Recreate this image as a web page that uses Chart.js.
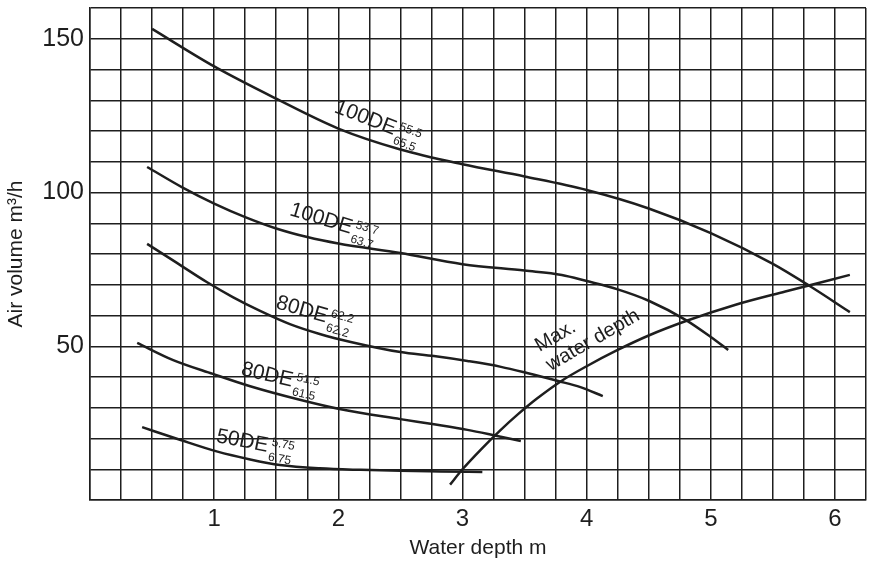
<!DOCTYPE html>
<html>
<head>
<meta charset="utf-8">
<script src="https://cdn.jsdelivr.net/npm/chart.js"></script>
<style>
  body { margin: 0; background: #fff; }
  #wrap { width: 873px; height: 561px; }
</style>
</head>
<body>
<div id="wrap"><canvas id="chart" width="873" height="561"></canvas></div>
<script>
// Courbes (profondeur d'eau m / débit d'air m3/h)
const depth100a = [0.50, 1.00, 1.50, 2.00, 2.50, 3.00, 3.50, 4.00, 4.50, 5.00, 5.50, 5.80, 6.12];
const air100a   = [153.2, 141.0, 130.5, 120.8, 114.0, 109.2, 105.2, 100.8, 94.8, 86.8, 76.8, 69.5, 61.1];

const depth100b = [0.46, 0.75, 1.00, 1.25, 1.50, 1.75, 2.00, 2.50, 3.00, 3.50, 3.80, 4.00, 4.25, 4.50, 4.80, 5.00, 5.14];
const air100b   = [108.3, 101.5, 96.4, 92.0, 88.3, 85.5, 83.4, 80.3, 76.7, 74.6, 73.2, 71.2, 68.5, 64.8, 58.5, 53.0, 48.8];

const depth80a = [0.46, 0.70, 0.94, 1.15, 1.37, 1.61, 1.85, 2.10, 2.50, 2.77, 3.04, 3.31, 3.52, 3.77, 3.95, 4.13];
const air80a   = [83.3, 77.1, 70.9, 66.0, 61.5, 57.2, 54.0, 51.4, 48.1, 46.8, 45.2, 43.3, 41.3, 38.7, 36.7, 33.8];

const depth80b = [0.38, 0.67, 0.99, 1.29, 1.69, 2.02, 2.50, 2.77, 3.04, 3.27, 3.47];
const air80b   = [51.1, 45.5, 41.0, 37.0, 32.6, 29.5, 26.3, 24.6, 22.8, 20.9, 19.2];

const depth50 = [0.42, 0.73, 1.02, 1.29, 1.53, 1.85, 2.18, 2.50, 2.82, 3.16];
const air50   = [23.7, 19.5, 15.8, 13.2, 11.4, 10.3, 9.8, 9.5, 9.3, 9.1];

const depthMax = [2.90, 3.00, 3.15, 3.30, 3.45, 3.60, 3.80, 4.00, 4.25, 4.50, 4.80, 5.20, 5.60, 6.12];
const airMax   = [5.0, 10.0, 16.5, 22.5, 28.0, 33.0, 38.8, 43.5, 48.8, 53.5, 58.2, 63.5, 67.8, 73.2];

// Étiquettes des courbes
const curveNames = ["100DE", "100DE", "80DE", "80DE", "50DE"];
const curveSup   = ["55.5", "53.7", "62.2", "51.5", "5.75"];
const curveSub   = ["65.5", "63.7", "62.2", "61.5", "6.75"];
const labelDepth = [1.96, 1.60, 1.49, 1.21, 1.01];
const labelAir   = [126.2, 92.7, 62.4, 40.7, 18.9];
const labelAngle = [21, 17, 16, 13, 11];

const maxLines = ["Max.", "water depth"];
const maxLabelDepth = 3.62;
const maxLabelAir = 48.1;

const INK = "#1e1e1e";
const FONT = "'Liberation Sans', Arial, Helvetica, sans-serif";

function pts(xs, ys) {
    return xs.map((x, i) => ({ x: x, y: ys[i] }));
}

function curve(xs, ys) {
    return {
        data: pts(xs, ys),
        showLine: true,
        borderColor: INK,
        borderWidth: 2.5,
        pointRadius: 0,
        cubicInterpolationMode: "monotone",
        fill: false,
    };
}

// Dessine les étiquettes tournées le long des courbes
const curveLabels = {
    id: "curveLabels",
    afterDatasetsDraw(chart) {
        const ctx = chart.ctx;
        const xs = chart.scales.x;
        const ys = chart.scales.y;
        ctx.save();
        ctx.fillStyle = INK;
        ctx.textBaseline = "alphabetic";
        curveNames.forEach((name, i) => {
            ctx.save();
            ctx.translate(xs.getPixelForValue(labelDepth[i]), ys.getPixelForValue(labelAir[i]));
            ctx.rotate(labelAngle[i] * Math.PI / 180);
            ctx.font = "21px " + FONT;
            ctx.fillText(name, 0, 0);
            const w = ctx.measureText(name).width;
            ctx.font = "12px " + FONT;
            ctx.fillText(curveSup[i], w + 3, -7);
            ctx.fillText(curveSub[i], w + 2, 8);
            ctx.restore();
        });
        ctx.save();
        ctx.translate(xs.getPixelForValue(maxLabelDepth), ys.getPixelForValue(maxLabelAir));
        ctx.rotate(-30 * Math.PI / 180);
        ctx.font = "20px " + FONT;
        ctx.fillText(maxLines[0], 0, 0);
        ctx.fillText(maxLines[1], 0, 22);
        ctx.restore();
        ctx.restore();
    }
};

const whiteBg = {
    id: "whiteBg",
    beforeDraw(chart) {
        const ctx = chart.ctx;
        ctx.save();
        ctx.fillStyle = "#fff";
        ctx.fillRect(0, 0, chart.width, chart.height);
        ctx.restore();
    }
};

new Chart(document.getElementById("chart").getContext("2d"), {
    type: "scatter",
    data: {
        datasets: [
            curve(depth100a, air100a),
            curve(depth100b, air100b),
            curve(depth80a, air80a),
            curve(depth80b, air80b),
            curve(depth50, air50),
            curve(depthMax, airMax),
        ],
    },
    options: {
        responsive: false,
        animation: false,
        layout: { padding: { top: 8, right: 7, left: 0, bottom: 0 } },
        plugins: {
            legend: { display: false },
            tooltip: { enabled: false },
        },
        scales: {
            x: {
                type: "linear",
                min: 0,
                max: 6.25,
                afterFit(scale) {
                    scale.height = 61;
                    scale.paddingLeft = 0;
                    scale.paddingRight = 0;
                },
                ticks: {
                    stepSize: 0.25,
                    autoSkip: false,
                    maxRotation: 0,
                    padding: 5,
                    color: INK,
                    font: { family: FONT, size: 24 },
                    callback: (v) => (Math.abs(v - Math.round(v)) < 1e-6 && v > 0) ? Math.round(v) : "",
                },
                grid: { color: INK, lineWidth: 1.5, drawTicks: false },
                border: { color: INK, width: 1.5 },
                title: {
                    display: true,
                    text: "Water depth m",
                    color: INK,
                    font: { family: FONT, size: 21 },
                    padding: { top: 0, bottom: 0 },
                },
            },
            y: {
                min: 0,
                max: 160,
                afterFit(scale) {
                    scale.width = 90;
                    scale.paddingTop = 0;
                    scale.paddingBottom = 0;
                },
                ticks: {
                    stepSize: 10,
                    autoSkip: false,
                    padding: 6,
                    color: INK,
                    font: { family: FONT, size: 25 },
                    callback: (v) => (v > 0 && v % 50 === 0) ? v : "",
                },
                grid: { color: INK, lineWidth: 1.5, drawTicks: false },
                border: { color: INK, width: 1.5 },
                title: {
                    display: true,
                    text: "Air volume m³/h",
                    color: INK,
                    font: { family: FONT, size: 21 },
                    padding: { top: 4, bottom: 0 },
                },
            },
        },
    },
    plugins: [whiteBg, curveLabels],
});
</script>
</body>
</html>
